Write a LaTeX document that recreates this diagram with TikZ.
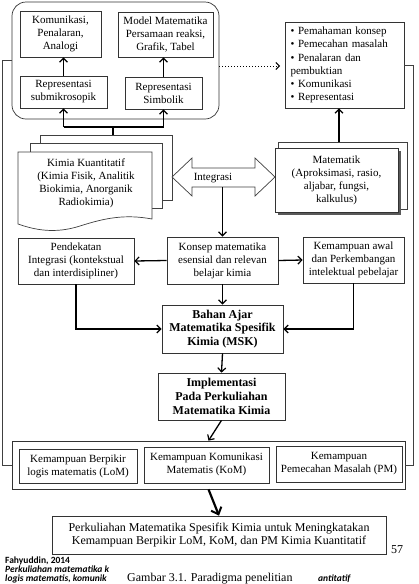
\documentclass[tikz,border=0pt]{standalone}
\usepackage{fontspec}
\setmainfont{Liberation Serif}
\newfontfamily\footfont{Carlito}
\usetikzlibrary{arrows.meta}
\begin{document}
\begin{tikzpicture}[x=1pt,y=-1pt,
  every node/.style={font=\fontsize{11}{13}\selectfont, align=center},
  box/.style={draw=black!80, line width=0.7pt, fill=white, inner sep=0pt},
  bbox/.style={box, font=\fontsize{12}{13.8}\selectfont\bfseries},
  frame/.style={draw=black!75, line width=0.7pt},
  conn/.style={draw=black, line width=1.3pt, -{Straight Barb[length=4pt,width=8pt,line width=1.2pt]}},
  link/.style={draw=black, line width=1.3pt},
  foot/.style={inner sep=0pt, anchor=base west, font=\footfont\bfseries\fontsize{9.5}{11}\selectfont},
  footi/.style={foot, font=\footfont\bfseries\itshape\fontsize{9.5}{11}\selectfont}
]
\useasboundingbox (0,0) rectangle (418,584);

% ---------- top rounded group ----------
\node[draw=black!80, line width=0.7pt, rounded corners=14pt, minimum width=207, minimum height=117, inner sep=0pt] (repbox) at (115.5,60.5) {};
\node[box, minimum width=81, minimum height=46] (kom) at (60.5,34) {Komunikasi,\\Penalaran,\\Analogi};
\node[box, minimum width=95, minimum height=45] (model) at (165.5,34.5) {Model Matematika\\Persamaan reaksi,\\Grafik, Tabel};
\node[box, minimum width=87, minimum height=32] (sub) at (63.5,92) {Representasi\\submikrosopik};
\node[box, minimum width=77, minimum height=32] (sim) at (163.5,93) {Representasi\\Simbolik};
\draw[conn] (sub.north) -- (sub.north |- kom.south);
\draw[conn] (sim.north) -- (sim.north |- model.south);

\coordinate (j) at (113,127);
\coordinate (kback) at (113,135);
\draw[conn] (j -| sub.south) -- (sub.south);
\draw[conn] (j -| sim.south) -- (sim.south);
\draw[link] (j -| sub.south) -- (j -| sim.south);
\draw[link] (j) -- (kback);

% ---------- Kimia Kuantitatif stack ----------
\draw[frame, fill=white] (40,135) rectangle (172,200);
\draw[frame, fill=white] (30,143) rectangle (162,208);
\draw[frame, fill=white] (18,152) -- (152,152) -- (152,219)
  .. controls (125,214) and (105,218) .. (80,226)
  .. controls (55,234) and (35,230) .. (18,224) -- cycle;
\node (kimia) at (86,183) {Kimia Kuantitatif\\(Kimia Fisik, Analitik\\Biokimia, Anorganik\\Radiokimia)};

% ---------- Integrasi double arrow ----------
\draw[frame, fill=white] (172,177) -- (192,158) -- (192,168) -- (255,168) -- (255,158)
  -- (275,177) -- (255,196) -- (255,187) -- (192,187) -- (192,196) -- cycle;
\node (integ) at (213,178) {Integrasi};
\coordinate (intb) at (222.5,187);

% ---------- Matematik stack ----------
\draw[frame, fill=white] (278,142) rectangle (407,209);
\fill[black!65] (277.5,150.5) rectangle (400.5,214.5);
\node[box, minimum width=123, minimum height=64] (mat) at (336.5,180) {Matematik\\(Aproksimasi, rasio,\\aljabar, fungsi,\\kalkulus)};
\coordinate (mtop) at (339,142);

% ---------- Pemahaman list ----------
\node[box, minimum width=119, minimum height=86, text width=108, align=left,
      font=\fontsize{11}{13.2}\selectfont] (pem) at (344.5,65)
  {\textbullet\ Pemahaman konsep\\\textbullet\ Pemecahan masalah\\\textbullet\ Penalaran dan\\pembuktian\\\textbullet\ Komunikasi\\\textbullet\ Representasi};
\draw[conn] (mtop) -- (mtop |- pem.south);
\coordinate (dotend) at (280,66);
\draw[dotted, line width=1pt, -{Straight Barb[length=3.5pt,width=7pt,line width=1pt]}] (repbox.east |- dotend) -- (dotend);

% ---------- middle row ----------
\node[box, minimum width=116, minimum height=46] (pend) at (76,261) {Pendekatan\\Integrasi (kontekstual\\dan interdisipliner)};
\node[box, minimum width=111, minimum height=47] (kon) at (222.5,260.5) {Konsep matematika\\esensial dan relevan\\belajar kimia};
\node[box, minimum width=101, minimum height=46] (awal) at (353.5,260) {Kemampuan awal\\dan Perkembangan\\intelektual pebelajar};
\draw[conn] (intb) -- (kon.north);
\draw[conn] (kon.west) -- (pend.east);
\draw[conn] (kon.east) -- (awal.west);

\node[bbox, minimum width=121, minimum height=48] (bahan) at (222.5,329) {Bahan Ajar\\Matematika Spesifik\\Kimia (MSK)};
\draw[conn] (kon.south) -- (bahan.north);
\draw[conn] (pend.south) |- (bahan.west);
\draw[conn] (awal.south) |- (bahan.east);

\node[bbox, minimum width=127, minimum height=47] (impl) at (221.5,396.5) {Implementasi\\Pada Perkuliahan\\Matematika Kimia};
\draw[conn] (bahan.south) -- (impl.north);

% ---------- abilities group ----------
\node[box, minimum width=393, minimum height=48] (grp) at (208.5,465) {};
\node[box, minimum width=118, minimum height=34] (lom) at (78,466) {Kemampuan Berpikir\\logis matematis (LoM)};
\node[box, minimum width=125, minimum height=36, text depth=4pt] (kkom) at (206.5,465) {Kemampuan Komunikasi\\Matematis (KoM)};
\node[box, minimum width=126, minimum height=36, text depth=4pt] (pm) at (339,464) {Kemampuan\\Pemecahan Masalah (PM)};
\draw[conn] (impl.south) -- (grp.north);

\draw[frame] (repbox.west) -- ++(-9,0) |- (grp.west);
\draw[frame] (pem.east) -- ++(9,0) |- (grp.east);

% ---------- final ----------
\node[box, minimum width=334, minimum height=38, font=\fontsize{12}{13}\selectfont] (fin) at (219,535) {Perkuliahan Matematika Spesifik Kimia untuk Meningkatakan\\Kemampuan Berpikir LoM, KoM, dan PM Kimia Kuantitatif};
\draw[line width=2.2pt, -{Straight Barb[length=6pt,width=11pt,line width=2pt]}] (grp.south) -- (fin.north);

\node[font=\fontsize{12}{13}\selectfont] (pg) at (397,550) {57};

% ---------- footer ----------
\node[foot] (f1) at (5,563) {Fahyuddin, 2014};
\node[footi] (f2) at (5,572.5) {Perkuliahan matematika k};
\node[footi] (f3) at (5,581.5) {logis matematis, komunik};
\node[inner sep=0pt, anchor=base west, font=\fontsize{12}{13}\selectfont] (cap) at (127,581.5) {Gambar 3.1. Paradigma penelitian};
\node[footi] (f4) at (318,581.5) {antitatif};
\end{tikzpicture}
\end{document}
